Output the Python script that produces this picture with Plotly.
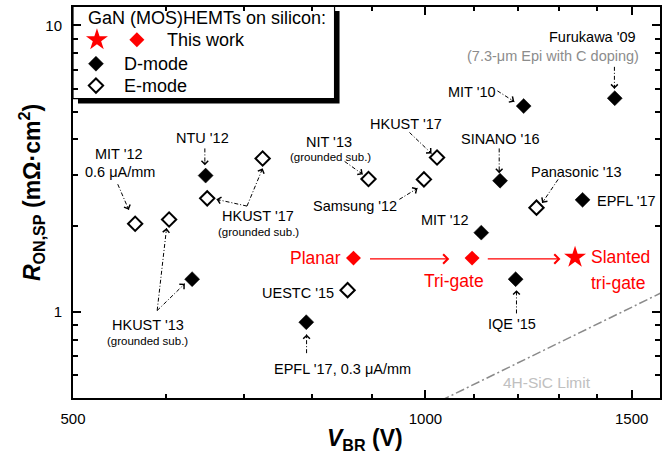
import numpy as np
import plotly.graph_objects as go

# ---------------------------------------------------------------
# Specific on-resistance vs. breakdown voltage, GaN HEMTs on Si
# ---------------------------------------------------------------

# D-mode devices (filled diamonds)
dmode_names = ["HKUST '13", "NTU '12", "EPFL '17 (0.3 μA/mm)", "MIT '12", "SINANO '16",
               "IQE '15", "MIT '10", "EPFL '17", "Furukawa '09"]
dmode_vbr = [632, 649, 791, 1116, 1158, 1194, 1213, 1362, 1451]
dmode_ron = [1.30, 2.99, 0.92, 1.89, 2.87, 1.30, 5.23, 2.46, 5.57]

# E-mode devices (open diamonds)
emode_names = ["MIT '12", "HKUST '13", "HKUST '17 (gs)", "HKUST '17 (gs)", "UESTC '15",
               "NIT '13", "Samsung '12", "HKUST '17", "Panasonic '13"]
emode_vbr = [565, 604, 651, 726, 858, 894, 997, 1023, 1244]
emode_ron = [2.03, 2.10, 2.49, 3.43, 1.19, 2.91, 2.90, 3.46, 2.31]

# This work: planar and tri-gate (diamonds), slanted tri-gate (star)
work_names = ["Planar", "Tri-gate", "Slanted tri-gate"]
work_vbr = [868, 1096, 1342]
work_ron = [1.54, 1.54, 1.55]

# 4H-SiC unipolar limit
sic_vbr = [1000, 1600]
sic_ron = [0.461, 1.18]

# Axis ticks
x_major = [500, 1000, 1500]
x_minor = [600, 700, 800, 900, 1100, 1200, 1300, 1400]
y_major = [1, 10]
y_minor = [0.6, 0.7, 0.8, 0.9, 2, 3, 4, 5, 6, 7, 8, 9]

# ---------------------------------------------------------------
W, H = 667, 454
ML, MR, MT, MB = 73, 6, 5, 56
PW, PH = W - ML - MR, H - MT - MB
X_RANGE = [500, 1586]
Y_RANGE = [0.5, 11.6]
LX = [np.log10(v) for v in X_RANGE]
LY = [np.log10(v) for v in Y_RANGE]

FONT = "Liberation Sans, Arial, Helvetica, sans-serif"
RED = "#ff0000"


def to_px(v, r):
    fx = (np.log10(v) - LX[0]) / (LX[1] - LX[0])
    fy = (np.log10(r) - LY[0]) / (LY[1] - LY[0])
    return ML + fx * PW, MT + (1 - fy) * PH


fig = go.Figure()

# 4H-SiC limit line
fig.add_trace(go.Scatter(
    x=sic_vbr, y=sic_ron, mode="lines",
    line=dict(color="#8a8a8a", width=1.5, dash="9px,3px,2px,3px"),
    hoverinfo="skip", showlegend=False))

# Dash-dot call-out leaders: (tail V, tail R) -> (head V, head R)
callouts = [
    ((546, 2.79), (558, 2.27)),      # MIT '12 (E)
    ((590, 1.01), (601, 1.96)),      # HKUST '13 (E)
    ((590, 1.01), (623, 1.254)),     # HKUST '13 (D)
    ((648, 3.72), (648, 3.25)),      # NTU '12
    ((704, 2.34), (663, 2.47)),      # HKUST '17 grounded, lower
    ((704, 2.34), (726, 3.17)),      # HKUST '17 grounded, upper
    ((791.5, 0.717), (791.5, 0.834)),  # EPFL '17, 0.3 uA/mm
    ((853, 3.35), (884, 3.02)),      # NIT '13
    ((950, 2.47), (984.5, 2.70)),    # Samsung '12
    ((969, 4.23), (1012, 3.57)),     # HKUST '17
    ((1156, 3.72), (1156, 3.05)),    # SINANO '16
    ((1152, 5.91), (1191, 5.42)),    # MIT '10
    ((1450, 7.17), (1450, 6.01)),    # Furukawa '09
    ((1298, 2.90), (1258, 2.40)),    # Panasonic '13
    ((1196, 0.987), (1196, 1.19)),   # IQE '15
]

annotations = []
for (v0, r0), (v1, r1) in callouts:
    fig.add_trace(go.Scatter(
        x=[v0, v1], y=[r0, r1], mode="lines",
        line=dict(color="black", width=1, dash="4px,2px,1px,2px"),
        hoverinfo="skip", showlegend=False))
    x0p, y0p = to_px(v0, r0)
    x1p, y1p = to_px(v1, r1)
    d = np.hypot(x1p - x0p, y1p - y0p)
    ux, uy = (x1p - x0p) / d, (y1p - y0p) / d
    annotations.append(dict(
        x=np.log10(v1), y=np.log10(r1), xref="x", yref="y",
        ax=-ux * 5, ay=-uy * 5, axref="pixel", ayref="pixel",
        text="", showarrow=True, arrowhead=4, arrowsize=1.3,
        arrowwidth=1, arrowcolor="black", standoff=0))

# Red arrows linking this-work devices
for (v0, r0), (v1, r1) in [((894, 1.53), (1048, 1.53)), ((1127, 1.53), (1304, 1.53))]:
    annotations.append(dict(
        x=np.log10(v1), y=np.log10(r1), xref="x", yref="y",
        ax=np.log10(v0), ay=np.log10(r0), axref="x", ayref="y",
        text="", showarrow=True, arrowhead=4, arrowsize=1.4,
        arrowwidth=1.3, arrowcolor=RED, standoff=0))

# Data markers
fig.add_trace(go.Scatter(
    x=emode_vbr, y=emode_ron, mode="markers", text=emode_names,
    marker=dict(symbol="diamond", size=11, color="white", opacity=1,
                line=dict(color="black", width=2)),
    showlegend=False))
fig.add_trace(go.Scatter(
    x=dmode_vbr, y=dmode_ron, mode="markers", text=dmode_names,
    marker=dict(symbol="diamond", size=11.5, color="black", opacity=1,
                line=dict(color="black", width=0.5)),
    showlegend=False))
fig.add_trace(go.Scatter(
    x=work_vbr, y=work_ron, mode="markers", text=work_names,
    marker=dict(symbol=["diamond", "diamond", "star"], size=[11.5, 11.5, 16.5],
                color=RED, opacity=1, line=dict(width=0)),
    showlegend=False))

# Point labels: (text, V, R, font size, x anchor, colour)
labels = [
    ("MIT '12", 547, 3.57, 14.5, "center", "black"),
    ("0.6 μA/mm", 548, 3.07, 14.5, "center", "black"),
    ("NTU '12", 645, 4.03, 14.5, "center", "black"),
    ("HKUST '17", 720, 2.16, 14.5, "center", "black"),
    ("(grounded sub.)", 720, 1.90, 11.5, "center", "black"),
    ("HKUST '13", 579, 0.896, 14.5, "center", "black"),
    ("(grounded sub.)", 579, 0.789, 11.5, "center", "black"),
    ("NIT '13", 827, 3.93, 14.5, "center", "black"),
    ("(grounded sub.)", 830, 3.46, 11.5, "center", "black"),
    ("Samsung '12", 870, 2.34, 14.5, "center", "black"),
    ("HKUST '17", 962, 4.54, 14.5, "center", "black"),
    ("SINANO '16", 1160, 4.00, 14.5, "center", "black"),
    ("MIT '10", 1095, 5.87, 14.5, "center", "black"),
    ("Furukawa '09", 1388, 9.1, 14.5, "center", "black"),
    ("(7.3-μm Epi with C doping)", 1286, 7.82, 14.5, "center", "#8c8c8c"),
    ("Panasonic '13", 1346, 3.07, 14.5, "center", "black"),
    ("EPFL '17", 1396, 2.43, 14.5, "left", "black"),
    ("MIT '12", 1040, 2.09, 14.5, "center", "black"),
    ("UESTC '15", 779, 1.167, 14.5, "center", "black"),
    ("IQE '15", 1186, 0.903, 14.5, "center", "black"),
    ("EPFL '17, 0.3 μA/mm", 850, 0.63, 14.5, "center", "black"),
    ("Planar", 805, 1.54, 17.5, "center", RED),
    ("Tri-gate", 1058, 1.28, 17.5, "center", RED),
    ("Slanted", 1380, 1.556, 17.5, "left", RED),
    ("tri-gate", 1380, 1.26, 17.5, "left", RED),
    ("4H-SiC Limit", 1271, 0.568, 15.5, "center", "#c0c0c0"),
]
for text, v, r, size, anchor, color in labels:
    annotations.append(dict(
        x=np.log10(v), y=np.log10(r), xref="x", yref="y", text=text,
        showarrow=False, xanchor=anchor, yanchor="middle",
        font=dict(family=FONT, size=size, color=color)))

# Axis titles
annotations.append(dict(
    x=(365 - ML) / PW, y=-(440 - MT - PH) / PH, xref="paper", yref="paper",
    text="<b><i>V</i><sub>BR</sub> (V)</b>", showarrow=False,
    xanchor="center", yanchor="middle",
    font=dict(family=FONT, size=23, color="black")))
annotations.append(dict(
    x=(31 - ML) / PW, y=(MT + PH - 192) / PH, xref="paper", yref="paper",
    text="<b><i>R</i><sub>ON,SP</sub> (mΩ·cm<sup>2</sup>)</b>", showarrow=False,
    textangle=-90, xanchor="center", yanchor="middle",
    font=dict(family=FONT, size=23, color="black")))

# Legend box with drop shadow
def pfx(px):
    return (px - ML) / PW


def pfy(py):
    return (MT + PH - py) / PH


shapes = [
    dict(type="rect", xref="paper", yref="paper", layer="below",
         x0=pfx(78), x1=pfx(340), y0=pfy(102), y1=pfy(9),
         fillcolor="black", line=dict(width=0)),
    dict(type="rect", xref="paper", yref="paper", layer="below",
         x0=pfx(73), x1=pfx(335), y0=pfy(97), y1=pfy(4),
         fillcolor="white", line=dict(color="black", width=1.2)),
]
legend_text = [
    ("GaN (MOS)HEMTs on silicon:", 86, 16),
    ("This work", 165, 38),
    ("D-mode", 122, 62),
    ("E-mode", 122, 84),
]
for text, px, py in legend_text:
    annotations.append(dict(
        x=pfx(px), y=pfy(py), xref="paper", yref="paper", text=text,
        showarrow=False, xanchor="left", yanchor="middle",
        font=dict(family=FONT, size=18, color="black")))

# Legend symbols on an overlay axis spanning the plot area (0..1)
fig.add_trace(go.Scatter(
    x=[pfx(97), pfx(137)], y=[pfy(38), pfy(38)], xaxis="x2", yaxis="y2",
    mode="markers", hoverinfo="skip", showlegend=False,
    marker=dict(symbol=["star", "diamond"], size=[16.5, 11.5], color=RED,
                opacity=1, line=dict(width=0))))
fig.add_trace(go.Scatter(
    x=[pfx(96)], y=[pfy(62)], xaxis="x2", yaxis="y2",
    mode="markers", hoverinfo="skip", showlegend=False,
    marker=dict(symbol="diamond", size=11.5, color="black", opacity=1,
                line=dict(color="black", width=0.5))))
fig.add_trace(go.Scatter(
    x=[pfx(96)], y=[pfy(84)], xaxis="x2", yaxis="y2",
    mode="markers", hoverinfo="skip", showlegend=False,
    marker=dict(symbol="diamond", size=11, color="white", opacity=1,
                line=dict(color="black", width=2))))

axis_common = dict(
    type="log", showgrid=False, zeroline=False,
    showline=True, linecolor="black", linewidth=2, mirror="allticks",
    ticks="inside", ticklen=8, tickwidth=1.5, tickcolor="black",
    tickfont=dict(family=FONT, size=15, color="black"),
)

fig.update_layout(
    width=W, height=H,
    margin=dict(l=ML, r=MR, t=MT, b=MB, pad=0),
    paper_bgcolor="white", plot_bgcolor="white",
    showlegend=False,
    xaxis=dict(
        range=LX, tickvals=x_major, ticktext=[str(v) for v in x_major],
        minor=dict(tickvals=x_minor, ticks="inside", ticklen=4,
                   tickwidth=1.5, tickcolor="black"),
        ticklabelstandoff=6,
        **axis_common),
    yaxis=dict(
        range=LY, tickvals=y_major, ticktext=[str(v) for v in y_major],
        minor=dict(tickvals=y_minor, ticks="inside", ticklen=5,
                   tickwidth=1.5, tickcolor="black"),
        ticklabelstandoff=6,
        **axis_common),
    xaxis2=dict(overlaying="x", range=[0, 1], visible=False, fixedrange=True),
    yaxis2=dict(overlaying="y", range=[0, 1], visible=False, fixedrange=True),
    shapes=shapes,
    annotations=annotations,
)

fig.write_html("out.html")
